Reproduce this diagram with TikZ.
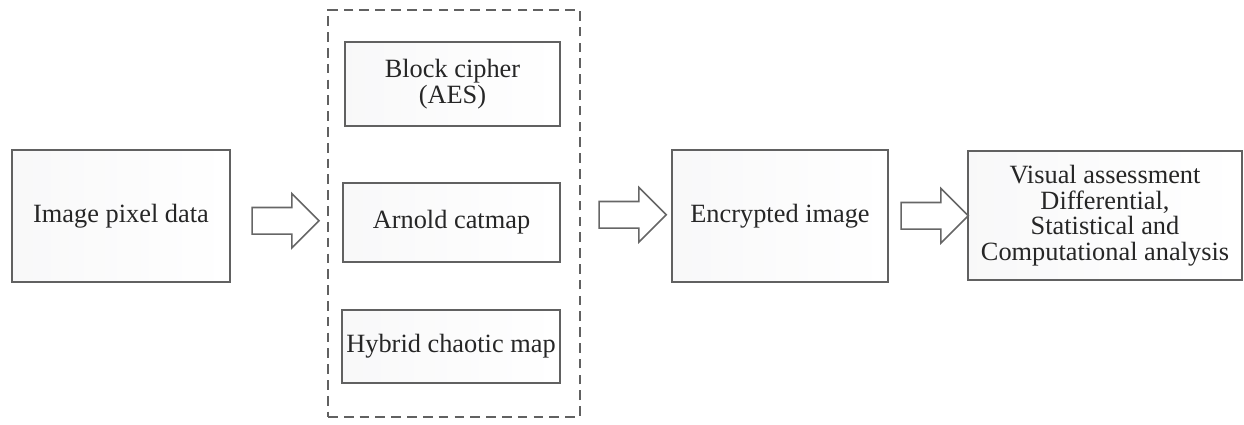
\documentclass[tikz,border=0pt]{standalone}
\usepackage{fontspec}
\setmainfont{Liberation Serif}
\usetikzlibrary{positioning,shapes.arrows,calc}
\tikzset{>=stealth}
\tikzset{
  blk/.style={draw=black!62,line width=1.1pt,left color=blue!5!gray!5,right color=white,
    align=center,text=black!85,font=\fontsize{15}{14.5}\selectfont,inner sep=0pt},
  dashbox/.style={draw=black!62,line width=1.2pt,dash pattern=on 5.5pt off 3.5pt},
  fatarrow/.style={single arrow,draw=black!60,fill=white,line width=0.9pt,
    inner xsep=0pt,inner ysep=0.25cm,single arrow head extend=0.28cm,minimum height=1.34cm}
}

\begin{document}
\begin{tikzpicture}[x=0.02cm,y=-0.02cm]
\useasboundingbox (0,0) rectangle (1244,424);
\node[blk,minimum width=4.36cm,minimum height=2.64cm] (pix) at (121,216) {Image pixel data};
\node[dashbox,minimum width=5.04cm,minimum height=8.14cm] (grp) at (454,213.5) {};
\node[blk,minimum width=4.3cm,minimum height=1.68cm] (aes) at (452.5,84) {Block cipher\\(AES)};
\node[blk,minimum width=4.34cm,minimum height=1.58cm] (cat) at (451.5,222.5) {Arnold catmap};
\node[blk,minimum width=4.36cm,minimum height=1.46cm] (hyb) at (451,346.5) {Hybrid chaotic map};
\node[blk,minimum width=4.32cm,minimum height=2.64cm] (enc) at (780,216) {Encrypted image};
\node[blk,minimum width=5.48cm,minimum height=2.58cm] (eva) at (1105,215.5)
  {Visual assessment\\Differential,\\Statistical and\\Computational analysis};
\node[fatarrow] (a1) at ($(pix.east)!.5!(grp.west)+(0,6)$) {};
\node[fatarrow] (a2) at ($(grp.east)!.5!(enc.west)$) {};
\node[fatarrow] (a3) at ($(enc.east)!.5!(eva.west)$) {};
\end{tikzpicture}
\end{document}
